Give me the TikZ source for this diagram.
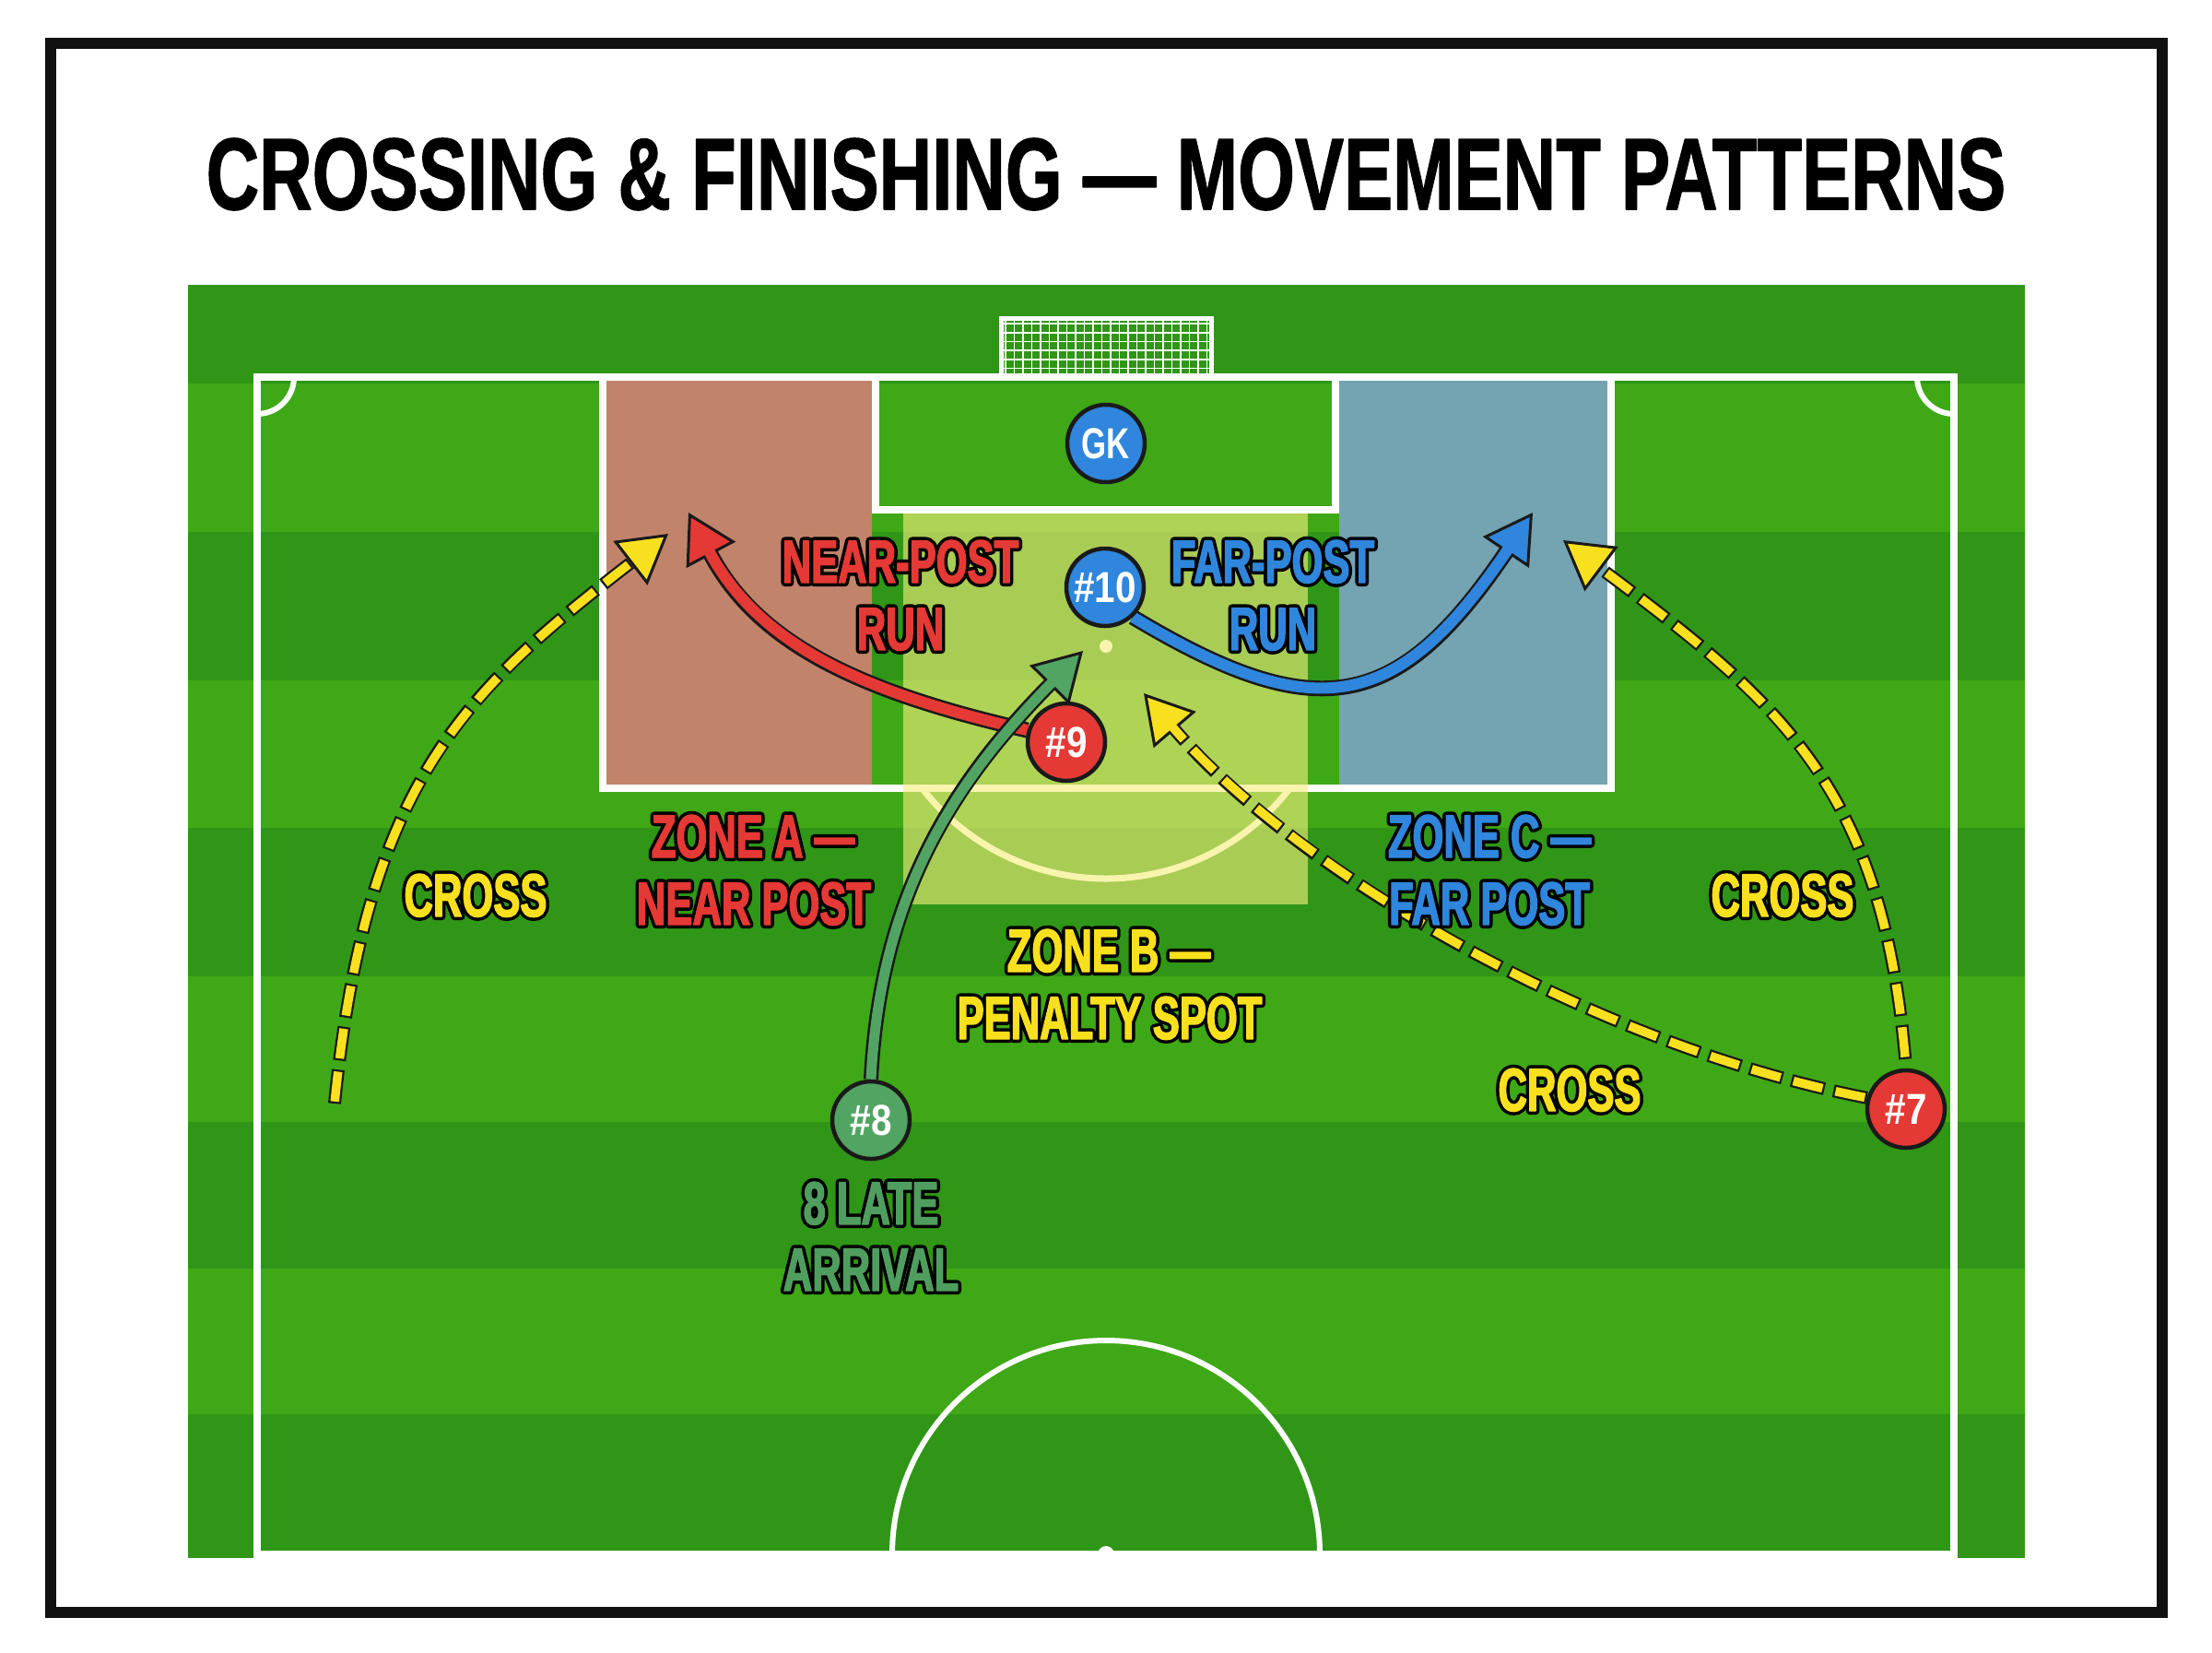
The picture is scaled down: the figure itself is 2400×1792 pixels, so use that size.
\documentclass[tikz,border=0pt]{standalone}
\usepackage{fontspec}
\setmainfont{Liberation Sans}
\newfontfamily\condfont[FakeStretch=0.66]{Liberation Sans}
\usepackage{graphicx}
\usetikzlibrary{arrows.meta}
\pgfdeclarelayer{pitchlayer}
\pgfdeclarelayer{arrowlayer}
\pgfsetlayers{pitchlayer,arrowlayer,main}
\definecolor{frameblk}{HTML}{111111}
\definecolor{outl}{HTML}{1A1A1A}
\definecolor{grassD}{HTML}{309617}
\definecolor{grassL}{HTML}{3FA816}
\definecolor{zoneAc}{HTML}{C1836A}
\definecolor{zoneCc}{HTML}{74A3B1}
\definecolor{zoneBc}{HTML}{F4EE7C}
\definecolor{runred}{HTML}{E53935}
\definecolor{runblue}{HTML}{2F86DC}
\definecolor{rungreen}{HTML}{52A463}
\definecolor{lblgreen}{HTML}{4F9E5F}
\definecolor{crossyel}{HTML}{F8E01E}
% outlined text: a black fill+stroke copy under the coloured (slightly emboldened) copy, same position
\newcommand{\olt}[1]{\leavevmode\rlap{\textcolor{black}{\special{pdf:literal direct 2 Tr 8.4 w 1 j 1 J}#1\special{pdf:literal direct 0 Tr 0.4 w 0 j 0 J}}}%
  \special{pdf:literal direct 2 Tr 1.4 w 1 j}#1\special{pdf:literal direct 0 Tr 0.4 w 0 j}}
\newcommand{\heavy}[1]{\special{pdf:literal direct 2 Tr 0.14 w 1 j}#1\special{pdf:literal direct 0 Tr 0.4 w 0 j}}
\tikzset{
  pline/.style={draw=white, line width=8pt},
  player/.style={circle, draw=outl, line width=4.5pt, minimum size=84pt, inner sep=0pt,
    text=white, font=\bfseries\fontsize{47}{47}\selectfont},
  lbl/.style={anchor=base, inner sep=0pt, font=\condfont\bfseries\fontsize{66}{73}\selectfont},
  tipof/.style={arrows={-{Triangle[length=52pt,width=60pt,line width=3pt,fill=#1]}}},
  runout/.style={draw=outl, line width=17pt},
  runin/.style={draw=#1, line width=12pt, shorten >=46pt},
  crossout/.style={draw=outl, line width=14pt, dash pattern=on 37pt off 10pt},
  crossin/.style={draw=crossyel, line width=9.5pt, dash pattern=on 32.5pt off 14.5pt, shorten >=46pt}
}
\begin{document}
\begin{tikzpicture}[x=1pt, y=-1pt]
\useasboundingbox (0,0) rectangle (2400,1792);

% ---------- pitch ----------
\begin{pgfonlayer}{pitchlayer}
\fill[white] (0,0) rectangle (2400,1792);
\foreach \a/\b/\c in {309/416/grassD, 416/577/grassL, 577/738/grassD, 738/898/grassL,
  898/1059/grassD, 1059/1217/grassL, 1217/1376/grassD, 1376/1534/grassL, 1534/1690/grassD}
  \fill[\c] (204,\a) rectangle (2197,\b);
% zones A and C
\fill[zoneAc] (654,409) rectangle (946,855);
\fill[zoneCc] (1453,409) rectangle (1748,855);
% goal net
\foreach \gx in {1091,1100.5,...,1310} \draw[white, line width=1.6pt] (\gx,346) -- (\gx,409);
\foreach \gy in {351,360.7,...,405} \draw[white, line width=1.6pt] (1086,\gy) -- (1314,\gy);
\draw[white, line width=5pt] (1086,409) -- (1086,345) -- (1314,345) -- (1314,409);
% touchlines, goal line, halfway line
\draw[pline] (279,1686) -- (279,409) -- (2120,409) -- (2120,1686) -- cycle;
% corner arcs, centre circle
\begin{scope}
  \clip (279,409) rectangle (2120,1686);
  \draw[pline, line width=6pt] (279,409) circle[radius=40pt];
  \draw[pline, line width=6pt] (2120,409) circle[radius=40pt];
  \draw[pline, line width=6pt] (1200,1686) circle[radius=232pt];
  \fill[white] (1200,1686) circle[radius=9pt];
\end{scope}
% penalty area, goal area
\draw[pline] (654,409) rectangle (1748,855);
\draw[pline] (950,409) rectangle (1449,553);
% penalty arc and spot
\begin{scope}
  \clip (654,859) rectangle (1748,1100);
  \draw[pline, line width=7pt] (1200,701) circle[radius=252pt];
\end{scope}
\fill[white] (1200,701) circle[radius=7pt];
% zone B overlay
\fill[zoneBc, opacity=0.62] (980,557) rectangle (1419,981);
\end{pgfonlayer}

% ---------- frame and title ----------
\draw[frameblk, line width=12pt] (55,47) rectangle (2346,1749);
\node[anchor=base, inner sep=0pt] (title) at (1200,227)
  {\resizebox{1952pt}{77pt}{\bfseries\heavy{CROSSING \& FINISHING — MOVEMENT PATTERNS}}};

% ---------- players ----------
\node[player, fill=runblue] (gk) at (1200,481) {\scalebox{0.74}[1]{GK}};
\node[player, fill=runblue] (p10) at (1199,637) {\scalebox{0.86}[1]{\#10}};
\node[player, fill=runred] (p9) at (1157,805) {\scalebox{0.86}[1]{\#9}};
\node[player, fill=rungreen] (p8) at (945,1215) {\scalebox{0.86}[1]{\#8}};
\node[player, fill=runred] (p7) at (2068,1203) {\scalebox{0.86}[1]{\#7}};

% free ends
\coordinate (lcS) at (363,1197);
\coordinate (tipLC) at (725,579);
\coordinate (tipR) at (747,556);
\coordinate (tipB) at (1663,556);
\coordinate (tipG) at (1175,706);
\coordinate (tipRC) at (1696,586);
\coordinate (tipPC) at (1241,752);

% ---------- runs and crosses ----------
\begin{pgfonlayer}{arrowlayer}
% near-post run (#9)
\draw[runout, tipof=runred] (p9.163) .. controls (930,750) and (822,697) .. (tipR);
\draw[runin=runred] (p9.163) .. controls (930,750) and (822,697) .. (tipR);
% far-post run (#10)
\draw[runout, tipof=runblue] (p10.-47) .. controls (1430,790) and (1517,772) .. (tipB);
\draw[runin=runblue] (p10.-47) .. controls (1430,790) and (1517,772) .. (tipB);
% late arrival (#8)
\draw[draw=outl, line width=16pt, tipof=rungreen] (p8.north) .. controls (955,970) and (1035,848) .. (tipG);
\draw[draw=rungreen, line width=11pt, shorten >=46pt] (p8.north) .. controls (955,970) and (1035,848) .. (tipG);
% left cross
\draw[crossout, tipof=crossyel] (lcS) .. controls (398,847) and (504,750) .. (tipLC);
\draw[crossin, dash phase=44.75pt] (lcS) .. controls (398,847) and (504,750) .. (tipLC);
% right cross (upper)
\draw[crossout, dash phase=37pt, tipof=crossyel] (p7.north) .. controls (2044,850) and (1928,760) .. (tipRC);
\draw[crossin, dash phase=34.75pt] (p7.north) .. controls (2044,850) and (1928,760) .. (tipRC);
% right cross (to penalty spot)
\draw[crossout, tipof=crossyel] (p7.164) .. controls (1722,1132) and (1403,942) .. (tipPC);
\draw[crossin, dash phase=44.75pt] (p7.164) .. controls (1722,1132) and (1403,942) .. (tipPC);
\end{pgfonlayer}

% ---------- labels ----------
\node[lbl, text=runred] (np1) at (977,632) {\olt{NEAR-POST}};
\node[lbl, text=runred] (np2) at (977,705) {\olt{RUN}};
\node[lbl, text=runblue] (fp1) at (1381,632) {\olt{FAR-POST}};
\node[lbl, text=runblue] (fp2) at (1381,705) {\olt{RUN}};
\node[lbl, text=runred] (za1) at (817,930) {\olt{ZONE A —}};
\node[lbl, text=runred] (za2) at (818,1003) {\olt{NEAR POST}};
\node[lbl, text=runblue] (zc1) at (1616,930) {\olt{ZONE C —}};
\node[lbl, text=runblue] (zc2) at (1616,1003) {\olt{FAR POST}};
\node[lbl, text=crossyel] (zb1) at (1203,1054) {\olt{ZONE B —}};
\node[lbl, text=crossyel] (zb2) at (1204,1127) {\olt{PENALTY SPOT}};
\node[lbl, text=crossyel] (cr1) at (516,994) {\olt{CROSS}};
\node[lbl, text=crossyel] (cr2) at (1934,994) {\olt{CROSS}};
\node[lbl, text=crossyel] (cr3) at (1703,1205) {\olt{CROSS}};
\node[lbl, text=lblgreen] (la1) at (945,1328) {\olt{8 LATE}};
\node[lbl, text=lblgreen] (la2) at (945,1400) {\olt{ARRIVAL}};
\end{tikzpicture}
\end{document}
